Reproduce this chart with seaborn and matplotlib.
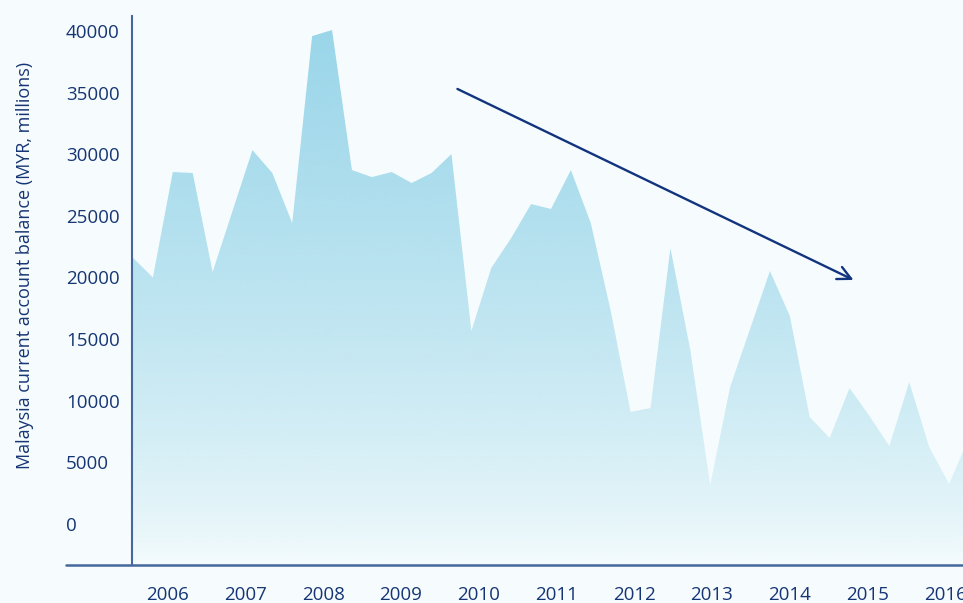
import numpy as np
import pandas as pd
import matplotlib

matplotlib.use("Agg")
import matplotlib.pyplot as plt
import seaborn as sns
from matplotlib.colors import to_rgb

# quarterly current account balance, MYR millions
balance = [21600, 20000, 28560, 28480, 20450, 25400, 30340, 28480, 24420, 39590,
           40080, 28720, 28150, 28560, 27670, 28480, 30020, 15660, 20770, 23200,
           25960, 25560, 28720, 24420, 17300, 9090, 9410, 22390, 14120, 3160,
           11120, 15820, 20530, 16880, 8680, 6980, 11030, 8760, 6330, 11520,
           6250, 3250, 7000]
year_labels = [str(y) for y in range(2006, 2017)]
year_pos = np.linspace(1.75, 40.8, len(year_labels))
y_ticks = list(range(0, 40001, 5000))
trend_start = (16.3, 35300)
trend_end = (36.2, 19800)

BG = "#f6fcfd"
NAVY = "#163574"
AXIS = "#46689c"
FILL = "#98d5e9"

df = pd.DataFrame({"q": np.arange(len(balance)), "balance": balance})

sns.set_theme(style="white")
plt.rcParams["font.family"] = ["Open Sans", "DejaVu Sans"]

fig = plt.figure(figsize=(9.63, 6.03), dpi=100, facecolor=BG)
ax = fig.add_axes([132 / 963, 38 / 603, 831 / 963, 549 / 603], facecolor=BG)

x0, x1 = -0.05, 41.7
y0, y1 = -3330, 41220
ax.set_xlim(x0, x1)
ax.set_ylim(y0, y1)

sns.lineplot(data=df, x="q", y="balance", ax=ax, color=FILL, lw=0)

# gradient fill clipped to the area under the series
rgba = np.zeros((256, 1, 4))
rgba[..., :3] = to_rgb(FILL)
rgba[..., 3] = (np.linspace(0, 1, 256) ** 0.7)[:, None]
img = ax.imshow(rgba, extent=[x0, x1, y0, y1], origin="lower", aspect="auto",
                zorder=1, interpolation="bilinear")
area = ax.fill_between(df["q"], df["balance"], y0, color="none", lw=0)
img.set_clip_path(area.get_paths()[0], transform=ax.transData)
ax.set_xlim(x0, x1)
ax.set_ylim(y0, y1)

ax.annotate("", xy=trend_end, xytext=trend_start,
            arrowprops=dict(arrowstyle="->", lw=1.7, color="#12347e",
                            mutation_scale=24, shrinkA=0, shrinkB=0),
            zorder=5)

for s in ["top", "right", "bottom"]:
    ax.spines[s].set_visible(False)
ax.spines["left"].set_color(AXIS)
ax.spines["left"].set_linewidth(1.5)
ax.plot([-66 / 831, 1], [0, 0], transform=ax.transAxes, color=AXIS, lw=1.8,
        clip_on=False, zorder=6)

ax.set_yticks(y_ticks)
ax.set_yticklabels([str(v) for v in y_ticks])
for lab in ax.get_yticklabels():
    lab.set_horizontalalignment("left")
ax.tick_params(axis="y", length=0, pad=47.5, labelsize=13.5, labelcolor=NAVY)
ax.set_xticks(year_pos)
ax.set_xticklabels(year_labels)
ax.tick_params(axis="x", length=0, pad=15, labelsize=13.5, labelcolor=NAVY)

ax.set_xlabel("")
ax.set_ylabel("Malaysia current account balance (MYR, millions)", fontsize=13,
              color=NAVY)
ax.yaxis.set_label_coords(-0.118, 0.546)
ax.grid(False)

fig.savefig("out.png", dpi=100, facecolor=BG)
